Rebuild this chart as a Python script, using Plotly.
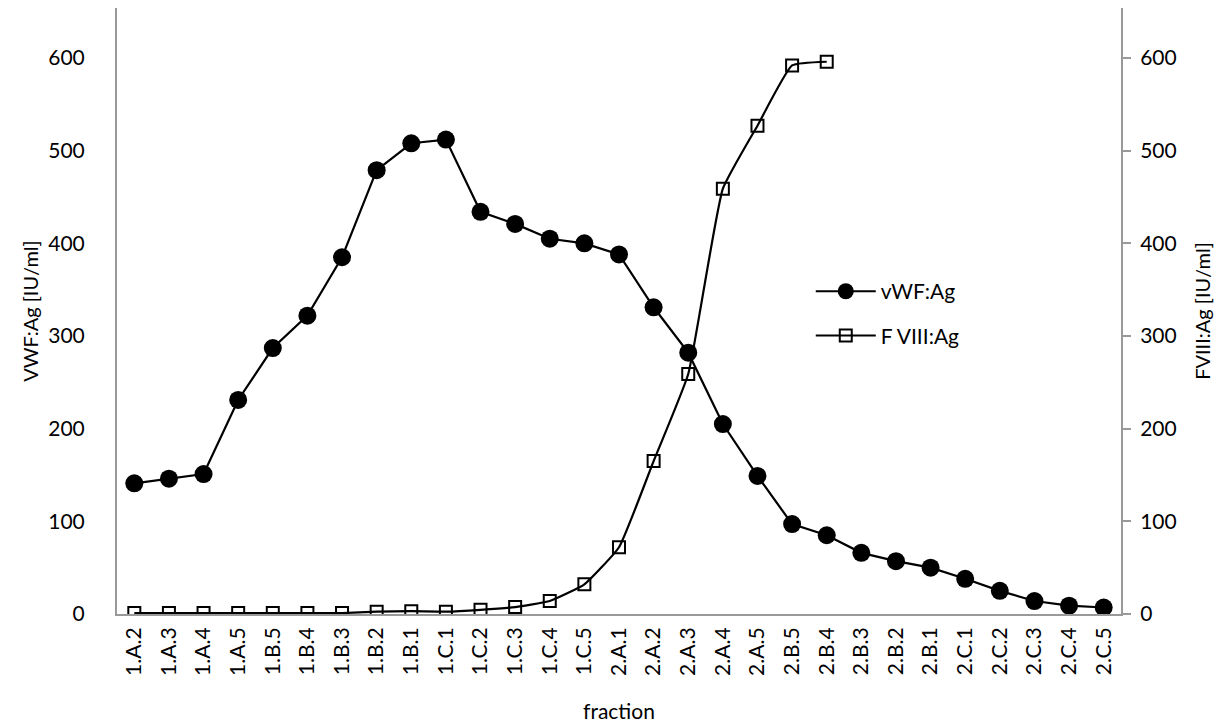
import plotly.graph_objects as go

fractions = ["1.A.2", "1.A.3", "1.A.4", "1.A.5", "1.B.5", "1.B.4", "1.B.3", "1.B.2", "1.B.1",
             "1.C.1", "1.C.2", "1.C.3", "1.C.4", "1.C.5", "2.A.1", "2.A.2", "2.A.3", "2.A.4",
             "2.A.5", "2.B.5", "2.B.4", "2.B.3", "2.B.2", "2.B.1", "2.C.1", "2.C.2", "2.C.3",
             "2.C.4", "2.C.5"]
vwf_ag = [141, 146, 151, 231, 287, 322, 385, 479, 508, 512, 434, 421, 405, 400, 388, 331,
          282, 205, 149, 97, 85, 66, 57, 50, 38, 25, 14, 9, 7]
fviii_ag = [1, 1, 1, 1, 1, 1, 1, 2.5, 3, 2.5, 4.5, 7.5, 14, 32, 72, 165, 259, 459, 527,
            592, 596, None, None, None, None, None, None, None, None]

FONT = "Lato, 'Open Sans', sans-serif"
AX = "#999999"

fig = go.Figure()
fig.add_trace(go.Scatter(
    x=fractions, y=vwf_ag, name="vWF:Ag", mode="lines+markers",
    line=dict(color="black", width=2.2),
    marker=dict(symbol="circle", size=18, color="black"),
    legend="legend"))
fig.add_trace(go.Scatter(
    x=fractions, y=fviii_ag, name="F VIII:Ag", mode="lines+markers", yaxis="y2",
    line=dict(color="black", width=2.2, shape="spline", smoothing=0.4),
    marker=dict(symbol="square-open", size=12, color="black", line=dict(width=2)),
    connectgaps=False, legend="legend2"))

fig.update_layout(
    width=1225, height=724,
    margin=dict(l=109, r=112, t=0, b=118),
    paper_bgcolor="white", plot_bgcolor="white",
    font=dict(family=FONT, size=21, color="black"),
    xaxis=dict(
        type="category", range=[-0.5, 28.5], tickangle=-90, automargin=False,
        showline=True, linecolor=AX, linewidth=2, ticks="",
        showgrid=False, zeroline=False, tickfont=dict(size=21), ticklabelstandoff=3,
        title=dict(text="fraction", font=dict(size=21), standoff=29),
    ),
    yaxis=dict(
        range=[0, 654], tickvals=[0, 100, 200, 300, 400, 500, 600], automargin=False,
        showline=True, linecolor=AX, linewidth=2, ticks="",
        ticklabelstandoff=26, showgrid=False, zeroline=False, tickfont=dict(size=21),
        title=dict(text="VWF:Ag [IU/ml]", font=dict(size=20), standoff=4),
    ),
    yaxis2=dict(
        range=[0, 654], tickvals=[0, 100, 200, 300, 400, 500, 600], automargin=False,
        overlaying="y", side="right",
        showline=True, linecolor=AX, linewidth=2,
        ticks="outside", ticklen=8, tickcolor=AX, tickwidth=2,
        ticklabelstandoff=5, showgrid=False, zeroline=False, tickfont=dict(size=21),
        title=dict(text="FVIII:Ag [IU/ml]", font=dict(size=20), standoff=20),
    ),
    legend=dict(x=0.691, y=0.532, xanchor="left", yanchor="middle",
                bgcolor="rgba(0,0,0,0)", font=dict(size=21), itemwidth=60),
    legend2=dict(x=0.691, y=0.459, xanchor="left", yanchor="middle",
                 bgcolor="rgba(0,0,0,0)", font=dict(size=21), itemwidth=60),
    showlegend=True,
)

fig.write_html("out.html")
